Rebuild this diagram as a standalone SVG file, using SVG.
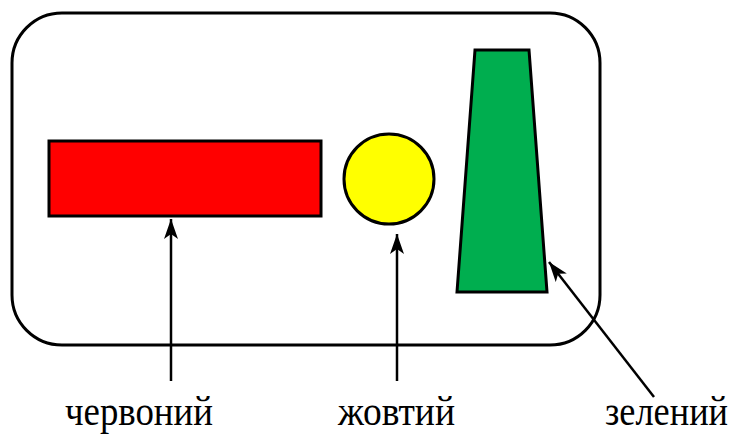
<svg xmlns="http://www.w3.org/2000/svg" width="733" height="435" viewBox="0 0 733 435">
<defs>
<style>
.s{stroke:#000;stroke-width:3}
.c{stroke:#000;stroke-width:2.5;fill:none}
</style>
<marker id="ah" viewBox="0 0 20 14" refX="20" refY="7" markerWidth="20" markerHeight="14" markerUnits="userSpaceOnUse" orient="auto">
<path d="M0,0 L20,7 L0,14 L5,7 Z" fill="#000"/>
</marker>
</defs>
<rect width="733" height="435" fill="#fff"/>
<g id="frame"><rect x="12" y="13" width="588" height="332" rx="50" ry="50" fill="#fff" class="s"/></g>
<g id="red"><rect x="49" y="141" width="272" height="75" fill="#ff0000" class="s"/></g>
<g id="yellow"><circle cx="389" cy="179" r="45" fill="#ffff00" class="s"/></g>
<g id="green"><polygon points="475,50 529,50 547,292 457,292" fill="#00ae4f" class="s"/></g>
<g id="connectors">
<line x1="171" y1="381" x2="171" y2="219" class="c" marker-end="url(#ah)"/>
<line x1="397" y1="381" x2="397" y2="234" class="c" marker-end="url(#ah)"/>
<line x1="654" y1="397" x2="549" y2="262" class="c" marker-end="url(#ah)"/>
</g>
<g id="labels">
<text x="65" y="425" font-family="Liberation Serif" font-size="42" textLength="148" lengthAdjust="spacingAndGlyphs">червоний</text>
<text x="338" y="425" font-family="Liberation Serif" font-size="42" textLength="117" lengthAdjust="spacingAndGlyphs">жовтий</text>
<text x="605" y="425" font-family="Liberation Serif" font-size="42" textLength="123" lengthAdjust="spacingAndGlyphs">зелений</text>
</g>
</svg>
